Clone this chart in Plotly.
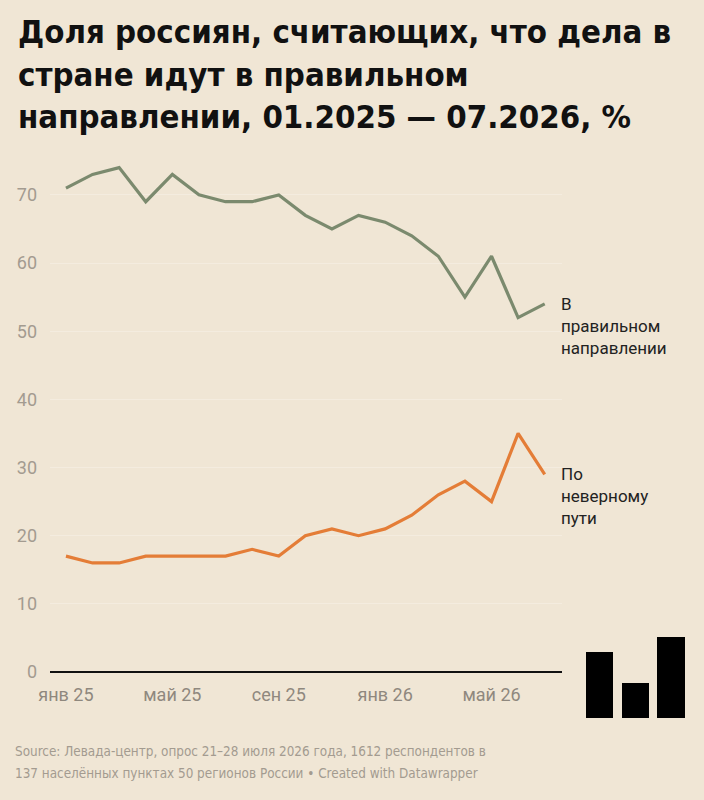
import plotly.graph_objects as go

months = ["янв 25", "фев 25", "мар 25", "апр 25", "май 25", "июн 25", "июл 25", "авг 25",
          "сен 25", "окт 25", "ноя 25", "дек 25", "янв 26", "фев 26", "мар 26", "апр 26",
          "май 26", "июн 26", "июл 26"]
right_dir = [71, 73, 74, 69, 73, 70, 69, 69, 70, 67, 65, 67, 66, 64, 61, 55, 61, 52, 54]
wrong_way = [17, 16, 16, 17, 17, 17, 17, 18, 17, 20, 21, 20, 21, 23, 26, 28, 25, 35, 29]
tick_months = ["янв 25", "май 25", "сен 25", "янв 26", "май 26"]
y_ticks = [0, 10, 20, 30, 40, 50, 60, 70]

BG = "#f0e6d5"
GREEN = "#7b8a6e"
ORANGE = "#e47d37"
TICK = "#a39b90"

L, R, T, B = 50, 142, 154, 128
W, H = 704, 800
pw, ph = W - L - R, H - T - B

fig = go.Figure()
fig.add_trace(go.Scatter(x=months, y=right_dir, mode="lines",
                         line=dict(color=GREEN, width=3.2), hoverinfo="skip"))
fig.add_trace(go.Scatter(x=months, y=wrong_way, mode="lines",
                         line=dict(color=ORANGE, width=3.2), hoverinfo="skip"))

fig.add_annotation(x=months[-1], y=right_dir[-1], xref="x", yref="y",
                   text="В<br>правильном<br>направлении", showarrow=False,
                   xanchor="left", yanchor="top", xshift=14, yshift=12, align="left",
                   font=dict(family="Roboto", size=17, color="#222222"))
fig.add_annotation(x=months[-1], y=wrong_way[-1], xref="x", yref="y",
                   text="По<br>неверному<br>пути", showarrow=False,
                   xanchor="left", yanchor="top", xshift=14, yshift=12, align="left",
                   font=dict(family="Roboto", size=17, color="#222222"))

# Title
fig.add_annotation(x=0, y=1, xref="paper", yref="paper",
                   text="<b>Доля россиян, считающих, что дела в<br>стране идут в правильном<br>направлении, 01.2025 — 07.2026, %</b>",
                   showarrow=False, xanchor="left", yanchor="top", align="left",
                   xshift=-L + 16, yshift=T - 11,
                   font=dict(family="DejaVu Sans Condensed", size=32.7, color="#111111"))
# Footer (two lines placed separately)
footer_lines = ["Source: Левада-центр, опрос 21–28 июля 2026 года, 1612 респондентов в",
                "137 населённых пунктах 50 регионов России • Created with Datawrapper"]
for i, line in enumerate(footer_lines):
    fig.add_annotation(x=0, y=0, xref="paper", yref="paper", text=line,
                       showarrow=False, xanchor="left", yanchor="middle", align="left",
                       xshift=-L + 13, yshift=-(751 + 22 * i - (H - B)),
                       font=dict(family="DejaVu Sans Condensed", size=13.4, color="#a39b90"))

# Logo bars (decoration)
def px2paper(x0, y0, x1, y1):
    return dict(x0=(x0 - L) / pw, x1=(x1 - L) / pw,
                y0=(H - B - y1) / ph, y1=(H - B - y0) / ph)

for (a, b, c, d) in [(586, 652, 613, 718), (622, 683, 649, 718), (657, 637, 685, 718)]:
    fig.add_shape(type="rect", xref="paper", yref="paper", line=dict(width=0),
                  fillcolor="#000000", **px2paper(a, b, c, d))

fig.update_layout(
    width=W, height=H, margin=dict(l=L, r=R, t=T, b=B, autoexpand=False),
    paper_bgcolor=BG, plot_bgcolor=BG, showlegend=False,
    font=dict(family="Roboto"),
)
fig.update_xaxes(type="category", categoryorder="array", categoryarray=months,
                 range=[-0.6, 18.65], tickmode="array", tickvals=tick_months,
                 ticktext=tick_months, showgrid=False, zeroline=False,
                 showline=False, ticks="", ticklabelstandoff=10, automargin=False,
                 tickfont=dict(family="Roboto", size=18, color="#8f887e"))
fig.update_yaxes(range=[0, 76], tickvals=y_ticks, showgrid=True,
                 gridcolor="#f4ecdf", gridwidth=1, zeroline=True,
                 zerolinecolor="#111111", zerolinewidth=1.5, ticks="",
                 ticklabelstandoff=12, automargin=False,
                 tickfont=dict(family="Roboto", size=18, color=TICK))

fig.write_html("out.html")
